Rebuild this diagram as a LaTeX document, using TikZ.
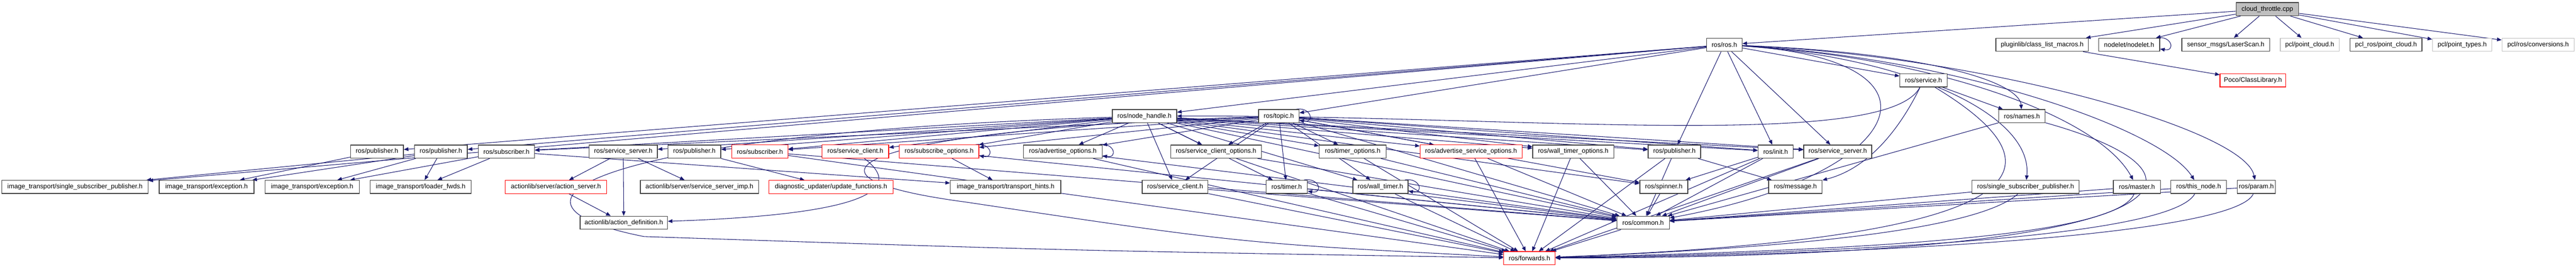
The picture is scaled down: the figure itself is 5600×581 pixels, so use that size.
\documentclass[tikz,border=0pt]{standalone}
\usepackage{fontspec}
\setmainfont{Liberation Sans}
\usetikzlibrary{arrows.meta}
\definecolor{edgeblue}{HTML}{191970}
\definecolor{ndgray}{HTML}{404040}
\definecolor{ltgray}{HTML}{BFBFBF}
\pgfdeclarelayer{bg}
\pgfsetlayers{bg,main}
\begin{document}
\begin{tikzpicture}[x=0.5pt,y=-0.5pt,
  nd/.style={draw=ndgray,line width=0.75pt,fill=white,minimum height=14.3pt,inner xsep=1pt,inner ysep=0pt,font=\fontsize{7.1}{8}\selectfont},
  rnd/.style={nd,draw=red,line width=0.6pt},
  gnd/.style={nd,draw=ltgray},
  e/.style={draw=edgeblue,line width=0.6pt,-{Triangle[length=5pt,width=4pt]}},
  selfloop/.style={e}
]
\useasboundingbox (0,0) rectangle (5600,581);
% row 0
\node[nd,fill=ltgray,minimum width=68pt] (cpp) at (4929,20) {cloud\_throttle.cpp};
% row 1
\node[nd,minimum width=38.5pt] (ros) at (3748.5,97.5) {ros/ros.h};
\node[nd,minimum width=100.5pt] (plugin) at (4439.5,97.5) {pluginlib/class\_list\_macros.h};
\node[nd,minimum width=66.5pt] (nodelet) at (4628.5,97.5) {nodelet/nodelet.h};
\node[nd,minimum width=95.5pt] (laser) at (4838.5,97.5) {sensor\_msgs/LaserScan.h};
\node[gnd,minimum width=64pt] (pclpc) at (5021,97.5) {pcl/point\_cloud.h};
\node[nd,minimum width=78pt] (pclros) at (5187,97.5) {pcl\_ros/point\_cloud.h};
\node[gnd,minimum width=64.5pt] (pclpt) at (5352.5,97.5) {pcl/point\_types.h};
\node[gnd,minimum width=78.5pt] (pclconv) at (5517.5,97.5) {pcl/ros/conversions.h};
% row 2
\node[nd,minimum width=51.5pt] (service) at (4181.5,175) {ros/service.h};
\node[rnd,minimum width=71.5pt] (poco) at (4897.5,175) {Poco/ClassLibrary.h};
% row 3
\node[nd,minimum width=70pt] (nh) at (2488,253) {ros/node\_handle.h};
\node[nd,minimum width=44pt] (topic) at (2780,253) {ros/topic.h};
\node[nd,minimum width=50.5pt] (names) at (4395.5,253) {ros/names.h};
% row 4
\node[nd,minimum width=57.5pt] (pubA) at (819.5,330) {ros/publisher.h};
\node[nd,minimum width=57.5pt] (pubB) at (958.5,330) {ros/publisher.h};
\node[nd,minimum width=61pt] (subA) at (1101,330) {ros/subscriber.h};
\node[nd,minimum width=74pt] (ssA) at (1355,330) {ros/service\_server.h};
\node[nd,minimum width=57.5pt] (pubC) at (1509.5,330) {ros/publisher.h};
\node[rnd,minimum width=61pt] (subB) at (1652,330) {ros/subscriber.h};
\node[rnd,minimum width=72.5pt] (scR) at (1859.5,330) {ros/service\_client.h};
\node[rnd,minimum width=86.5pt] (subopt) at (2041.5,330) {ros/subscribe\_options.h};
\node[nd,minimum width=85.5pt] (advopt) at (2310.5,330) {ros/advertise\_options.h};
\node[nd,minimum width=98.5pt] (scopt) at (2643.5,330) {ros/service\_client\_options.h};
\node[nd,minimum width=72.5pt] (tmopt) at (2940.5,330) {ros/timer\_options.h};
\node[rnd,minimum width=111pt] (asopt) at (3198,330) {ros/advertise\_service\_options.h};
\node[nd,minimum width=88pt] (wtopt) at (3420,330) {ros/wall\_timer\_options.h};
\node[nd,minimum width=57pt] (pubD) at (3640,330) {ros/publisher.h};
\node[nd,minimum width=38pt] (init) at (3860,330) {ros/init.h};
\node[nd,minimum width=74pt] (ssB) at (3995,330) {ros/service\_server.h};
% row 5
\node[nd,minimum width=159pt] (itssp) at (163,407) {image\_transport/single\_subscriber\_publisher.h};
\node[nd,minimum width=103pt] (excA) at (449,407) {image\_transport/exception.h};
\node[nd,minimum width=102.5pt] (excB) at (678.5,407) {image\_transport/exception.h};
\node[nd,minimum width=109.5pt] (loader) at (914.5,407) {image\_transport/loader\_fwds.h};
\node[rnd,minimum width=110.5pt] (actsrv) at (1208.5,407) {actionlib/server/action\_server.h};
\node[nd,minimum width=128.5pt] (ssimp) at (1520.5,407) {actionlib/server/service\_server\_imp.h};
\node[rnd,minimum width=134.5pt] (diag) at (1806.5,407) {diagnostic\_updater/update\_functions.h};
\node[nd,minimum width=120pt] (hints) at (2186,407) {image\_transport/transport\_hints.h};
\node[nd,minimum width=71.5pt] (sc) at (2554.5,407) {ros/service\_client.h};
\node[nd,minimum width=45pt] (timer) at (2797,407) {ros/timer.h};
\node[nd,minimum width=60pt] (wtimer) at (3001,407) {ros/wall\_timer.h};
\node[nd,minimum width=52pt] (spinner) at (3617,407) {ros/spinner.h};
\node[nd,minimum width=58pt] (message) at (3903,407) {ros/message.h};
\node[nd,minimum width=116.5pt] (rssp) at (4403.5,407) {ros/single\_subscriber\_publisher.h};
\node[nd,minimum width=51.5pt] (master) at (4645.5,407) {ros/master.h};
\node[nd,minimum width=60.5pt] (thisnode) at (4779.5,407) {ros/this\_node.h};
\node[nd,minimum width=41.5pt] (param) at (4905,407) {ros/param.h};
% row 6
\node[nd,minimum width=95pt] (actdef) at (1356,485) {actionlib/action\_definition.h};
\node[nd,minimum width=57pt] (common) at (3572,485) {ros/common.h};
% row 7
\node[rnd,minimum width=56pt] (fwd) at (3325,562) {ros/forwards.h};

\begin{pgfonlayer}{bg}
\draw[e] (cpp) -- (ros);
\foreach \t in {plugin,nodelet,laser,pclpc,pclros,pclpt,pclconv} {\draw[e] (cpp) -- (\t);}
\draw[e] (plugin) -- (poco);
\foreach \n in {nodelet,topic,subopt,advopt,timer,wtimer} {
  \draw[selfloop] ([xshift=-4pt]\n.north east) .. controls +(34,-6) and +(34,6) .. ([yshift=3pt]\n.south east);}
\foreach \t in {itssp,pubA,pubB,nh,topic,pubD,init,ssB,service} {\draw[e] (ros) -- (\t);}
\draw[e] (ros) .. controls (4200,115) and (4390,180) .. (names);
\draw[e] (ros) .. controls (4150,125) and (4420,250) .. (rssp);
\draw[e] (ros) .. controls (4200,125) and (4560,250) .. (master);
\draw[e] (ros) .. controls (4250,125) and (4700,280) .. (thisnode);
\draw[e] (ros) .. controls (4300,120) and (4880,280) .. (param);
\draw[e] (ros) .. controls (4260,130) and (4150,380) .. (common);
\foreach \t in {subA,ssA,pubC,subB,scR,subopt,advopt,scopt,tmopt,asopt,wtopt,pubD,init,ssB,spinner,timer,wtimer,sc,common} {\draw[e] (nh) -- (\t);}
\foreach \t in {subA,subB,subopt,advopt,scopt,tmopt,asopt,wtopt,pubD,init,ssB,spinner,timer,wtimer,sc,common} {\draw[e] (topic) -- (\t);}
\draw[e] (nh) .. controls (1300,290) and (1020,440) .. (1400,515) .. controls (2300,545) .. (fwd);
\draw[e] (topic) .. controls (1900,280) and (1650,380) .. (2100,440) .. controls (2700,530) .. (fwd);
\draw[e] (service) .. controls (4100,330) and (3300,250) .. (nh);
\draw[e] (service) -- (names);
\draw[e] (service) .. controls (4120,300) and (4050,370) .. (message);
\draw[e] (service) .. controls (4520,380) and (4400,520) .. (fwd);
\draw[e] (names) .. controls (4850,380) and (4800,560) .. (fwd);
\draw[e] (pubA) -- (excA);
\foreach \t in {itssp,excA,excB,loader} {\draw[e] (pubB) -- (\t);}
\foreach \t in {excB,loader,hints} {\draw[e] (subA) -- (\t);}
\foreach \t in {actsrv,ssimp,actdef} {\draw[e] (ssA) -- (\t);}
\draw[e] (actsrv) -- (actdef);
\draw[e] (pubC) -- (diag);
\draw[e] (scR) .. controls (1990,430) and (1800,470) .. (actdef);
\draw[e] (subopt) -- (hints);
\foreach \s in {subB,subopt,advopt,scopt,sc,timer,wtimer,tmopt,asopt,wtopt,pubD,init,ssB,spinner,rssp,master,thisnode,param,names} {\draw[e] (\s) -- (common);}
\foreach \s in {subB,advopt,scopt,sc,timer,wtimer,tmopt,asopt,wtopt,pubD,init,ssB,common} {\draw[e] (\s) -- (fwd);}
\draw[e] (rssp) .. controls (4300,500) and (3900,540) .. (fwd);
\draw[e] (master) .. controls (4600,520) and (4000,545) .. (fwd);
\draw[e] (thisnode) .. controls (4720,515) and (4050,550) .. (fwd);
\draw[e] (param) .. controls (4860,510) and (4100,555) .. (fwd);
\draw[e] (pubD) -- (message);
\draw[e] (init) -- (spinner);
\end{pgfonlayer}
\end{tikzpicture}
\end{document}
